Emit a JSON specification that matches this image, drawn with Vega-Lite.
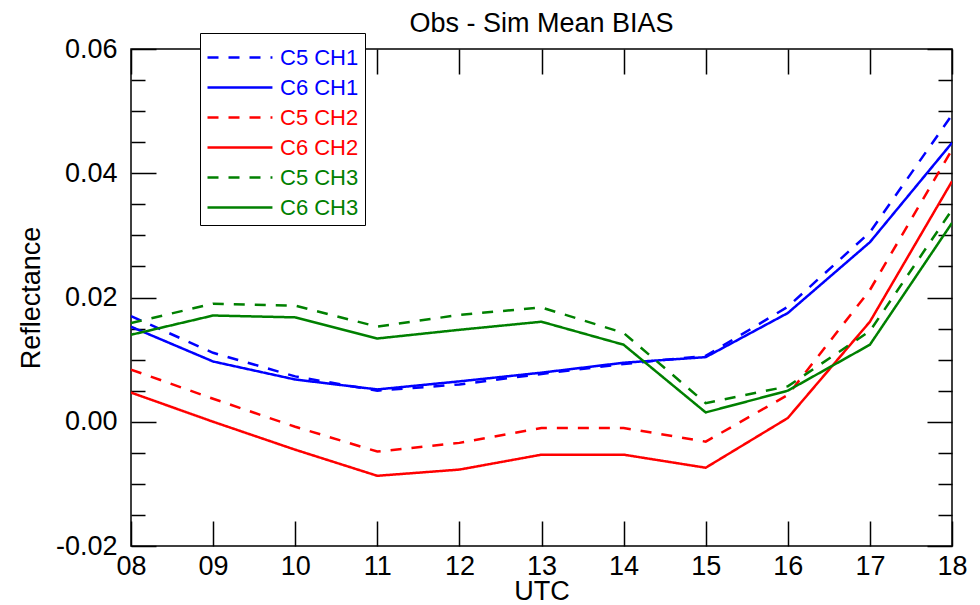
{
  "$schema": "https://vega.github.io/schema/vega-lite/v6.json",
  "width": 821,
  "height": 497,
  "autosize": {"type": "none"},
  "padding": {"left": 131, "top": 49, "right": 28, "bottom": 59},
  "background": "white",
  "title": {"text": "Obs - Sim Mean BIAS", "font": "Liberation Sans", "fontSize": 27, "fontWeight": "normal", "color": "black", "offset": -5, "anchor": "middle", "frame": "group"},
  "data": {"values": [
    {"series": "C5 CH1", "hour": 8, "value": 0.0170},
    {"series": "C5 CH1", "hour": 9, "value": 0.0111},
    {"series": "C5 CH1", "hour": 10, "value": 0.0073},
    {"series": "C5 CH1", "hour": 11, "value": 0.0050},
    {"series": "C5 CH1", "hour": 12, "value": 0.0060},
    {"series": "C5 CH1", "hour": 13, "value": 0.0077},
    {"series": "C5 CH1", "hour": 14, "value": 0.0093},
    {"series": "C5 CH1", "hour": 15, "value": 0.0106},
    {"series": "C5 CH1", "hour": 16, "value": 0.0185},
    {"series": "C5 CH1", "hour": 17, "value": 0.0305},
    {"series": "C5 CH1", "hour": 18, "value": 0.0494},
    {"series": "C6 CH1", "hour": 8, "value": 0.0153},
    {"series": "C6 CH1", "hour": 9, "value": 0.0097},
    {"series": "C6 CH1", "hour": 10, "value": 0.0068},
    {"series": "C6 CH1", "hour": 11, "value": 0.0052},
    {"series": "C6 CH1", "hour": 12, "value": 0.0065},
    {"series": "C6 CH1", "hour": 13, "value": 0.0079},
    {"series": "C6 CH1", "hour": 14, "value": 0.0095},
    {"series": "C6 CH1", "hour": 15, "value": 0.0104},
    {"series": "C6 CH1", "hour": 16, "value": 0.0175},
    {"series": "C6 CH1", "hour": 17, "value": 0.0289},
    {"series": "C6 CH1", "hour": 18, "value": 0.0449},
    {"series": "C5 CH2", "hour": 8, "value": 0.0084},
    {"series": "C5 CH2", "hour": 9, "value": 0.0037},
    {"series": "C5 CH2", "hour": 10, "value": -0.0008},
    {"series": "C5 CH2", "hour": 11, "value": -0.0048},
    {"series": "C5 CH2", "hour": 12, "value": -0.0034},
    {"series": "C5 CH2", "hour": 13, "value": -0.0010},
    {"series": "C5 CH2", "hour": 14, "value": -0.0010},
    {"series": "C5 CH2", "hour": 15, "value": -0.0032},
    {"series": "C5 CH2", "hour": 16, "value": 0.0043},
    {"series": "C5 CH2", "hour": 17, "value": 0.0212},
    {"series": "C5 CH2", "hour": 18, "value": 0.0438},
    {"series": "C6 CH2", "hour": 8, "value": 0.0047},
    {"series": "C6 CH2", "hour": 9, "value": 0.0000},
    {"series": "C6 CH2", "hour": 10, "value": -0.0045},
    {"series": "C6 CH2", "hour": 11, "value": -0.0087},
    {"series": "C6 CH2", "hour": 12, "value": -0.0077},
    {"series": "C6 CH2", "hour": 13, "value": -0.0053},
    {"series": "C6 CH2", "hour": 14, "value": -0.0053},
    {"series": "C6 CH2", "hour": 15, "value": -0.0074},
    {"series": "C6 CH2", "hour": 16, "value": 0.0006},
    {"series": "C6 CH2", "hour": 17, "value": 0.0161},
    {"series": "C6 CH2", "hour": 18, "value": 0.0387},
    {"series": "C5 CH3", "hour": 8, "value": 0.0159},
    {"series": "C5 CH3", "hour": 9, "value": 0.0190},
    {"series": "C5 CH3", "hour": 10, "value": 0.0187},
    {"series": "C5 CH3", "hour": 11, "value": 0.0153},
    {"series": "C5 CH3", "hour": 12, "value": 0.0172},
    {"series": "C5 CH3", "hour": 13, "value": 0.0184},
    {"series": "C5 CH3", "hour": 14, "value": 0.0143},
    {"series": "C5 CH3", "hour": 15, "value": 0.0030},
    {"series": "C5 CH3", "hour": 16, "value": 0.0057},
    {"series": "C5 CH3", "hour": 17, "value": 0.0146},
    {"series": "C5 CH3", "hour": 18, "value": 0.0341},
    {"series": "C6 CH3", "hour": 8, "value": 0.0140},
    {"series": "C6 CH3", "hour": 9, "value": 0.0171},
    {"series": "C6 CH3", "hour": 10, "value": 0.0168},
    {"series": "C6 CH3", "hour": 11, "value": 0.0134},
    {"series": "C6 CH3", "hour": 12, "value": 0.0148},
    {"series": "C6 CH3", "hour": 13, "value": 0.0161},
    {"series": "C6 CH3", "hour": 14, "value": 0.0124},
    {"series": "C6 CH3", "hour": 15, "value": 0.0015},
    {"series": "C6 CH3", "hour": 16, "value": 0.0050},
    {"series": "C6 CH3", "hour": 17, "value": 0.0124},
    {"series": "C6 CH3", "hour": 18, "value": 0.0320}
  ]},
  "layer": [
    {
      "mark": {"type": "line", "strokeWidth": 2.5, "clip": true},
      "encoding": {
        "x": {"field": "hour", "type": "quantitative",
          "scale": {"domain": [8, 18], "nice": false, "zero": false},
          "axis": {"orient": "bottom", "values": [8, 9, 10, 11, 12, 13, 14, 15, 16, 17, 18],
            "labelExpr": "datum.value < 10 ? '0' + datum.value : '' + datum.value",
            "tickSize": -25, "labelPadding": 32, "labelFontSize": 27, "labelFont": "Liberation Sans", "labelColor": "black",
            "labelFlush": false, "labelOverlap": false, "domain": false, "grid": false, "tickColor": "black", "tickWidth": 1.5,
            "title": "UTC", "titleFont": "Liberation Sans", "titleFontSize": 27, "titleFontWeight": "normal", "titleColor": "black",
            "titleX": 410.5, "titleY": 53, "titleBaseline": "alphabetic", "titleAnchor": "middle"}},
        "y": {"field": "value", "type": "quantitative",
          "scale": {"domain": [-0.02, 0.06], "nice": false, "zero": false},
          "axis": {"orient": "left",
            "values": [-0.02, -0.015, -0.01, -0.005, 0, 0.005, 0.01, 0.015, 0.02, 0.025, 0.03, 0.035, 0.04, 0.045, 0.05, 0.055, 0.06],
            "labelExpr": "abs(datum.value * 50 - round(datum.value * 50)) < 0.001 ? (datum.value < -0.0001 ? '-' + format(-datum.value, '.2f') : format(abs(datum.value), '.2f')) : ''",
            "tickSize": {"condition": {"test": "abs(datum.value * 50 - round(datum.value * 50)) < 0.001", "value": -25}, "value": -14},
            "labelPadding": 39, "labelFontSize": 27, "labelFont": "Liberation Sans", "labelColor": "black", "labelBaseline": "middle",
            "labelFlush": false, "labelOverlap": false, "domain": false, "grid": false, "tickColor": "black", "tickWidth": 1.5,
            "title": "Reflectance", "titleFont": "Liberation Sans", "titleFontSize": 27, "titleFontWeight": "normal", "titleColor": "black",
            "titleX": -92, "titleY": 248.5, "titleAngle": -90, "titleBaseline": "alphabetic", "titleAnchor": "middle", "titleAlign": "center"}},
        "color": {"field": "series", "type": "nominal",
          "scale": {"domain": ["C5 CH1", "C6 CH1", "C5 CH2", "C6 CH2", "C5 CH3", "C6 CH3"],
            "range": ["#0000ff", "#0000ff", "#ff0000", "#ff0000", "#008000", "#008000"]},
          "legend": {"orient": "none", "legendX": 69, "legendY": -16, "title": null,
            "strokeColor": "black", "fillColor": "white", "padding": 6,
            "symbolType": "M-1,0H2.82", "symbolSize": 1156, "symbolStrokeWidth": 2.5,
            "labelFontSize": 22, "labelFont": "Liberation Sans", "labelOffset": 37, "rowPadding": -9.7,
            "encode": {"labels": {"update": {"fill": {"scale": "color", "field": "value"}}}}}},
        "strokeDash": {"field": "series", "type": "nominal",
          "scale": {"domain": ["C5 CH1", "C6 CH1", "C5 CH2", "C6 CH2", "C5 CH3", "C6 CH3"],
            "range": [[11, 10], [1, 0], [11, 10], [1, 0], [11, 10], [1, 0]]},
          "legend": {"orient": "none", "legendX": 69, "legendY": -16, "title": null,
            "strokeColor": "black", "fillColor": "white", "padding": 6,
            "symbolType": "M-1,0H2.82", "symbolSize": 1156, "symbolStrokeWidth": 2.5,
            "labelFontSize": 22, "labelFont": "Liberation Sans", "labelOffset": 37, "rowPadding": -9.7,
            "encode": {"labels": {"update": {"fill": {"scale": "color", "field": "value"}}}}}}
      }
    },
    {
      "mark": {"type": "line", "opacity": 0},
      "encoding": {
        "x": {"field": "hour", "type": "quantitative",
          "axis": {"orient": "top", "values": [8, 9, 10, 11, 12, 13, 14, 15, 16, 17, 18], "labels": false,
            "tickSize": -25, "domain": false, "grid": false, "tickColor": "black", "tickWidth": 1.5, "title": null}},
        "y": {"field": "value", "type": "quantitative",
          "axis": {"orient": "right",
            "values": [-0.02, -0.015, -0.01, -0.005, 0, 0.005, 0.01, 0.015, 0.02, 0.025, 0.03, 0.035, 0.04, 0.045, 0.05, 0.055, 0.06],
            "labels": false,
            "tickSize": {"condition": {"test": "abs(datum.value * 50 - round(datum.value * 50)) < 0.001", "value": -25}, "value": -14},
            "domain": false, "grid": false, "tickColor": "black", "tickWidth": 1.5, "title": null}},
        "detail": {"field": "series", "type": "nominal"}
      }
    }
  ],
  "resolve": {"scale": {"x": "shared", "y": "shared"}, "axis": {"x": "independent", "y": "independent"}},
  "config": {"view": {"stroke": "black", "strokeWidth": 1.5}}
}
